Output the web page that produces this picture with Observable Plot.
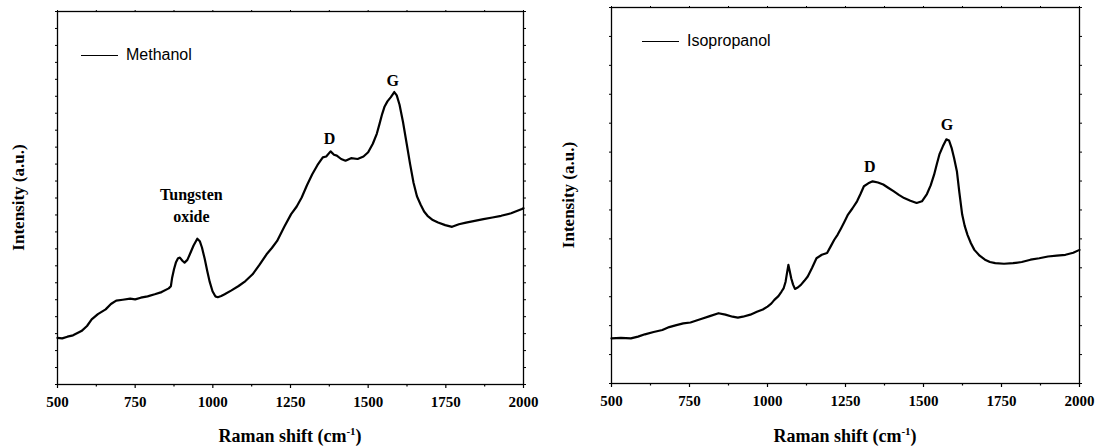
<!DOCTYPE html>
<html>
<head>
<meta charset="utf-8">
<script src="https://cdn.jsdelivr.net/npm/d3@7"></script>
<script src="https://cdn.jsdelivr.net/npm/@observablehq/plot@0.6"></script>
<style>
  html, body { margin: 0; padding: 0; background: #fff; }
  #wrap { position: relative; width: 1099px; height: 448px; overflow: hidden; }
  .panel { position: absolute; top: 0; }
  .legend { position: absolute; font-family: "Liberation Sans", Arial, sans-serif; font-size: 16px; color: #000; display: flex; align-items: center; }
  .legend span.sw { display: inline-block; width: 37px; height: 0; border-top: 1.6px solid #000; margin-right: 8px; }
</style>
</head>
<body>
<div id="wrap"></div>
<script>
// ---------- data ----------
const xTicksMajor = [500, 750, 1000, 1250, 1500, 1750, 2000];
const xTicksMinor = [625, 875, 1125, 1375, 1625, 1875];

// Methanol spectrum (Raman shift, intensity in arbitrary units)
const methanolShift = [500, 515, 532, 550, 577, 595, 610, 630, 655, 672, 689, 710, 734, 750, 768, 790, 813, 835, 858, 865, 869, 875, 881, 888, 894, 902, 909, 918, 926, 938, 950, 958, 965, 974, 982, 990, 999, 1008, 1016, 1027, 1038, 1060, 1083, 1105, 1128, 1150, 1173, 1190, 1207, 1230, 1252, 1270, 1286, 1303, 1320, 1337, 1354, 1365, 1379, 1390, 1399, 1413, 1427, 1445, 1466, 1485, 1500, 1515, 1528, 1537, 1545, 1553, 1562, 1573, 1584, 1592, 1601, 1612, 1624, 1635, 1646, 1657, 1669, 1680, 1691, 1708, 1725, 1748, 1770, 1792, 1815, 1843, 1871, 1900, 1928, 1960, 1995, 2000];
const methanolInt   = [2.75, 2.72, 2.82, 2.9, 3.15, 3.45, 3.84, 4.15, 4.43, 4.75, 4.95, 5.0, 5.06, 5.02, 5.12, 5.2, 5.32, 5.45, 5.67, 5.8, 6.3, 6.8, 7.19, 7.45, 7.48, 7.3, 7.19, 7.35, 7.68, 8.2, 8.6, 8.45, 8.08, 7.4, 6.7, 6.05, 5.5, 5.2, 5.15, 5.22, 5.32, 5.55, 5.81, 6.1, 6.5, 7.05, 7.68, 8.05, 8.47, 9.3, 10.05, 10.5, 11.03, 11.75, 12.4, 12.95, 13.4, 13.45, 13.75, 13.55, 13.5, 13.3, 13.2, 13.35, 13.3, 13.45, 13.7, 14.2, 14.8, 15.4, 15.95, 16.4, 16.7, 16.95, 17.25, 17.05, 16.5, 15.5, 14.2, 13.0, 11.9, 11.1, 10.6, 10.2, 9.95, 9.7, 9.55, 9.4, 9.3, 9.45, 9.55, 9.65, 9.75, 9.85, 9.95, 10.1, 10.35, 10.4];

// Isopropanol spectrum
const isoShift = [500, 530, 562, 585, 607, 635, 663, 685, 708, 730, 753, 770, 787, 815, 843, 865, 888, 905, 921, 945, 966, 985, 1000, 1012, 1022, 1035, 1045, 1052, 1058, 1063, 1067, 1071, 1076, 1082, 1088, 1097, 1107, 1118, 1129, 1143, 1157, 1174, 1191, 1203, 1214, 1225, 1236, 1247, 1258, 1272, 1287, 1298, 1309, 1323, 1337, 1354, 1371, 1388, 1405, 1421, 1438, 1458, 1478, 1495, 1511, 1523, 1534, 1543, 1551, 1562, 1573, 1582, 1590, 1598, 1607, 1615, 1624, 1632, 1641, 1652, 1663, 1680, 1697, 1713, 1730, 1758, 1787, 1815, 1843, 1871, 1899, 1927, 1955, 1980, 2000];
const isoInt   = [1.56, 1.58, 1.56, 1.62, 1.7, 1.78, 1.85, 1.95, 2.02, 2.08, 2.11, 2.17, 2.23, 2.33, 2.43, 2.38, 2.31, 2.28, 2.31, 2.38, 2.48, 2.56, 2.66, 2.76, 2.89, 3.02, 3.18, 3.3, 3.52, 3.85, 4.1, 3.9, 3.64, 3.42, 3.27, 3.32, 3.41, 3.55, 3.7, 4.0, 4.33, 4.45, 4.51, 4.75, 4.97, 5.15, 5.37, 5.6, 5.84, 6.05, 6.3, 6.55, 6.82, 6.92, 6.99, 6.95, 6.88, 6.76, 6.64, 6.52, 6.41, 6.32, 6.24, 6.3, 6.55, 6.85, 7.22, 7.6, 7.92, 8.2, 8.44, 8.4, 8.15, 7.8, 7.34, 6.6, 5.84, 5.45, 5.14, 4.85, 4.62, 4.42, 4.28, 4.2, 4.16, 4.14, 4.16, 4.2, 4.28, 4.33, 4.39, 4.42, 4.45, 4.52, 4.62];

// peak annotations
const methanolNotes = [
  {x: 931, y: 11.2, text: "Tungsten"},
  {x: 931, y: 9.9, text: "oxide"},
  {x: 1376, y: 14.5, text: "D"},
  {x: 1579, y: 17.9, text: "G"}
];
const isoNotes = [
  {x: 1328, y: 7.49, text: "D"},
  {x: 1575, y: 8.93, text: "G"}
];

const panels = [
  {name: "Methanol", shift: methanolShift, intensity: methanolInt, notes: methanolNotes, yMax: 22,
   left: 0, width: 550, mL: 57, mR: 27, mT: 11, mB: 64, legendX: 81, legendY: 56, yLabelX: 20},
  {name: "Isopropanol", shift: isoShift, intensity: isoInt, notes: isoNotes, yMax: 13,
   left: 550, width: 549, mL: 61, mR: 20, mT: 7, mB: 65, legendX: 92, legendY: 42, yLabelX: 20}
];

const wrap = document.getElementById("wrap");
const serif = "'Liberation Serif', 'Times New Roman', serif";
const blank = () => "";

for (const p of panels) {
  const data = p.shift.map((s, i) => ({s, v: p.intensity[i]}));
  const yTicks = d3.range(0, p.yMax + 1);
  const chart = Plot.plot({
    width: p.width,
    height: 448,
    marginLeft: p.mL, marginRight: p.mR, marginTop: p.mT, marginBottom: p.mB,
    style: {fontFamily: serif, background: "white", color: "#000"},
    x: {domain: [500, 2000]},
    y: {domain: [0, p.yMax]},
    marks: [
      Plot.frame({stroke: "#000", strokeWidth: 1.3}),
      Plot.axisX({anchor: "bottom", ticks: xTicksMajor, tickSize: 4, tickPadding: 8, tickFormat: d => String(d),
                  fontSize: 15, fontWeight: "bold", fontFamily: serif, label: null, strokeWidth: 1.2}),
      Plot.axisX({anchor: "bottom", ticks: xTicksMinor, tickSize: 2.5, tickFormat: blank, label: null, strokeWidth: 1.2}),
      Plot.axisX({anchor: "top", ticks: [...xTicksMajor, ...xTicksMinor], tickSize: 2, tickFormat: blank, label: null, strokeWidth: 1}),
      Plot.axisY({anchor: "left", ticks: yTicks, tickSize: 2, tickFormat: blank, label: null, strokeWidth: 1}),
      Plot.axisY({anchor: "right", ticks: yTicks, tickSize: 2, tickFormat: blank, label: null, strokeWidth: 1}),
      Plot.line(data, {x: "s", y: "v", stroke: "#000", strokeWidth: 2.2, strokeLinejoin: "round"}),
      Plot.text(p.notes, {x: "x", y: "y", text: "text", fontSize: 16, fontWeight: "bold", fontFamily: serif, fill: "#000"})
    ]
  });
  const div = document.createElement("div");
  div.className = "panel";
  div.style.left = p.left + "px";
  div.appendChild(chart);
  wrap.appendChild(div);

  const svg = d3.select(chart);
  // x-axis title with superscript
  const cx = p.mL + (p.width - p.mL - p.mR) / 2;
  const t = svg.append("text")
    .attr("x", cx).attr("y", 442)
    .attr("text-anchor", "middle")
    .attr("font-family", serif).attr("font-weight", "bold").attr("font-size", 18).attr("fill", "#000");
  t.append("tspan").text("Raman shift (cm");
  t.append("tspan").attr("dy", -7).attr("font-size", 11).text("-1");
  t.append("tspan").attr("dy", 7).text(")");
  // y-axis title
  const cy = p.mT + (448 - p.mT - p.mB) / 2;
  svg.append("text")
    .attr("transform", `translate(${p.yLabelX},${cy}) rotate(-90)`)
    .attr("text-anchor", "middle").attr("dominant-baseline", "middle")
    .attr("font-family", serif).attr("font-weight", "bold").attr("font-size", 17).attr("fill", "#000")
    .text("Intensity (a.u.)");

  // legend
  const lg = document.createElement("div");
  lg.className = "legend";
  lg.style.left = (p.left + p.legendX) + "px";
  lg.style.top = (p.legendY - 10) + "px";
  lg.innerHTML = `<span class="sw"></span><span>${p.name}</span>`;
  wrap.appendChild(lg);
}
</script>
</body>
</html>
